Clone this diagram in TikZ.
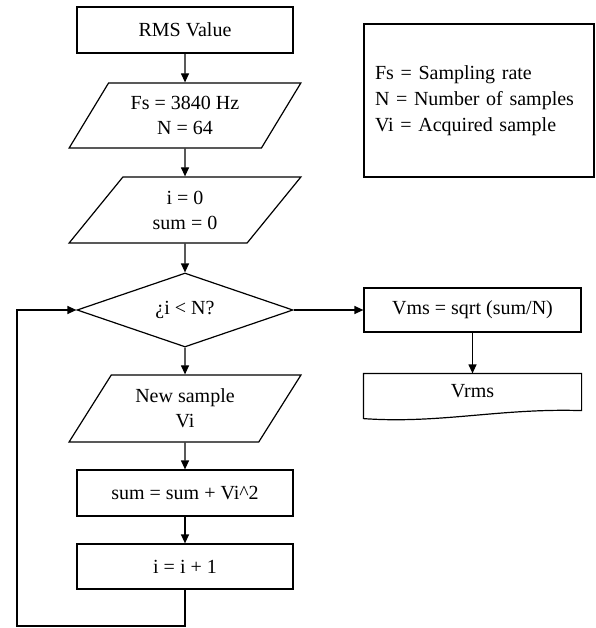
\documentclass[tikz,border=0pt]{standalone}
\usepackage{fontspec}
\setmainfont{Liberation Serif}
\usetikzlibrary{arrows.meta,shapes.geometric,calc}
\begin{document}
\begin{tikzpicture}[x=1pt,y=-1pt,
  every node/.style={font=\fontsize{20}{25}\selectfont},
  line width=1.2pt,
  box/.style={draw, rectangle, minimum width=216pt, inner sep=0pt},
  io/.style={draw, trapezium, trapezium stretches=true, trapezium left angle=54, trapezium right angle=126, minimum width=232pt, inner sep=0pt, align=center},
  decision/.style={draw, diamond, aspect=2.92, minimum width=216pt, minimum height=74pt, inner sep=0pt},
  arr/.style={-{Triangle[length=9pt,width=8pt]}}
]
\useasboundingbox (0,0) rectangle (595,628);
\node[box, minimum height=46pt] (rms) at (185,30) {RMS Value};
\node[io, minimum height=65pt] (p1) at (185,115.5) {Fs = 3840 Hz\\N = 64};
\node[io, minimum height=66pt] (p2) at (185,210) {i = 0\\sum = 0};
\node[decision] (dec) at (185,310) {¿i < N?};
\node[io, minimum height=67pt] (p3) at (185,408.5) {New sample\\Vi};
\node[box, minimum height=46pt] (sum) at (185,493) {sum = sum + Vi\^{}2};
\node[box, minimum height=45pt] (inc) at (185,566.5) {i = i + 1};
\node[draw, rectangle, minimum width=217pt, minimum height=44pt, inner sep=0pt] (vms) at (472.5,310) {Vms = sqrt (sum/N)};
\node[rectangle, minimum width=217pt, minimum height=44pt, inner sep=0pt, text depth=10pt] (vrms) at (472.5,396) {Vrms};
\draw (vrms.north west) -- (vrms.north east) -- ($(vrms.south east)+(0,-8)$)
  .. controls (500,408) and (440,424) .. (vrms.south west) -- cycle;
\node[draw, rectangle, minimum width=230pt, minimum height=153pt, text width=208pt, inner xsep=11pt, align=left, font=\fontsize{20}{26}\selectfont] (leg) at (479,100.5)
  {Fs = Sampling rate\\N = Number of samples\\Vi = Acquired sample};
\coordinate (lp) at (17,626);
\draw[arr] (rms) -- (p1);
\draw[arr] (p1) -- (p2);
\draw[arr] (p2) -- (dec);
\draw[arr] (dec) -- (p3);
\draw[arr] (p3) -- (sum);
\draw[arr] (sum) -- (inc);
\draw[arr] (inc.south) |- (lp) |- (dec.west);
\draw[arr] (dec.east) -- (vms.west);
\draw[arr] (vms) -- (vrms.north);
\end{tikzpicture}
\end{document}
